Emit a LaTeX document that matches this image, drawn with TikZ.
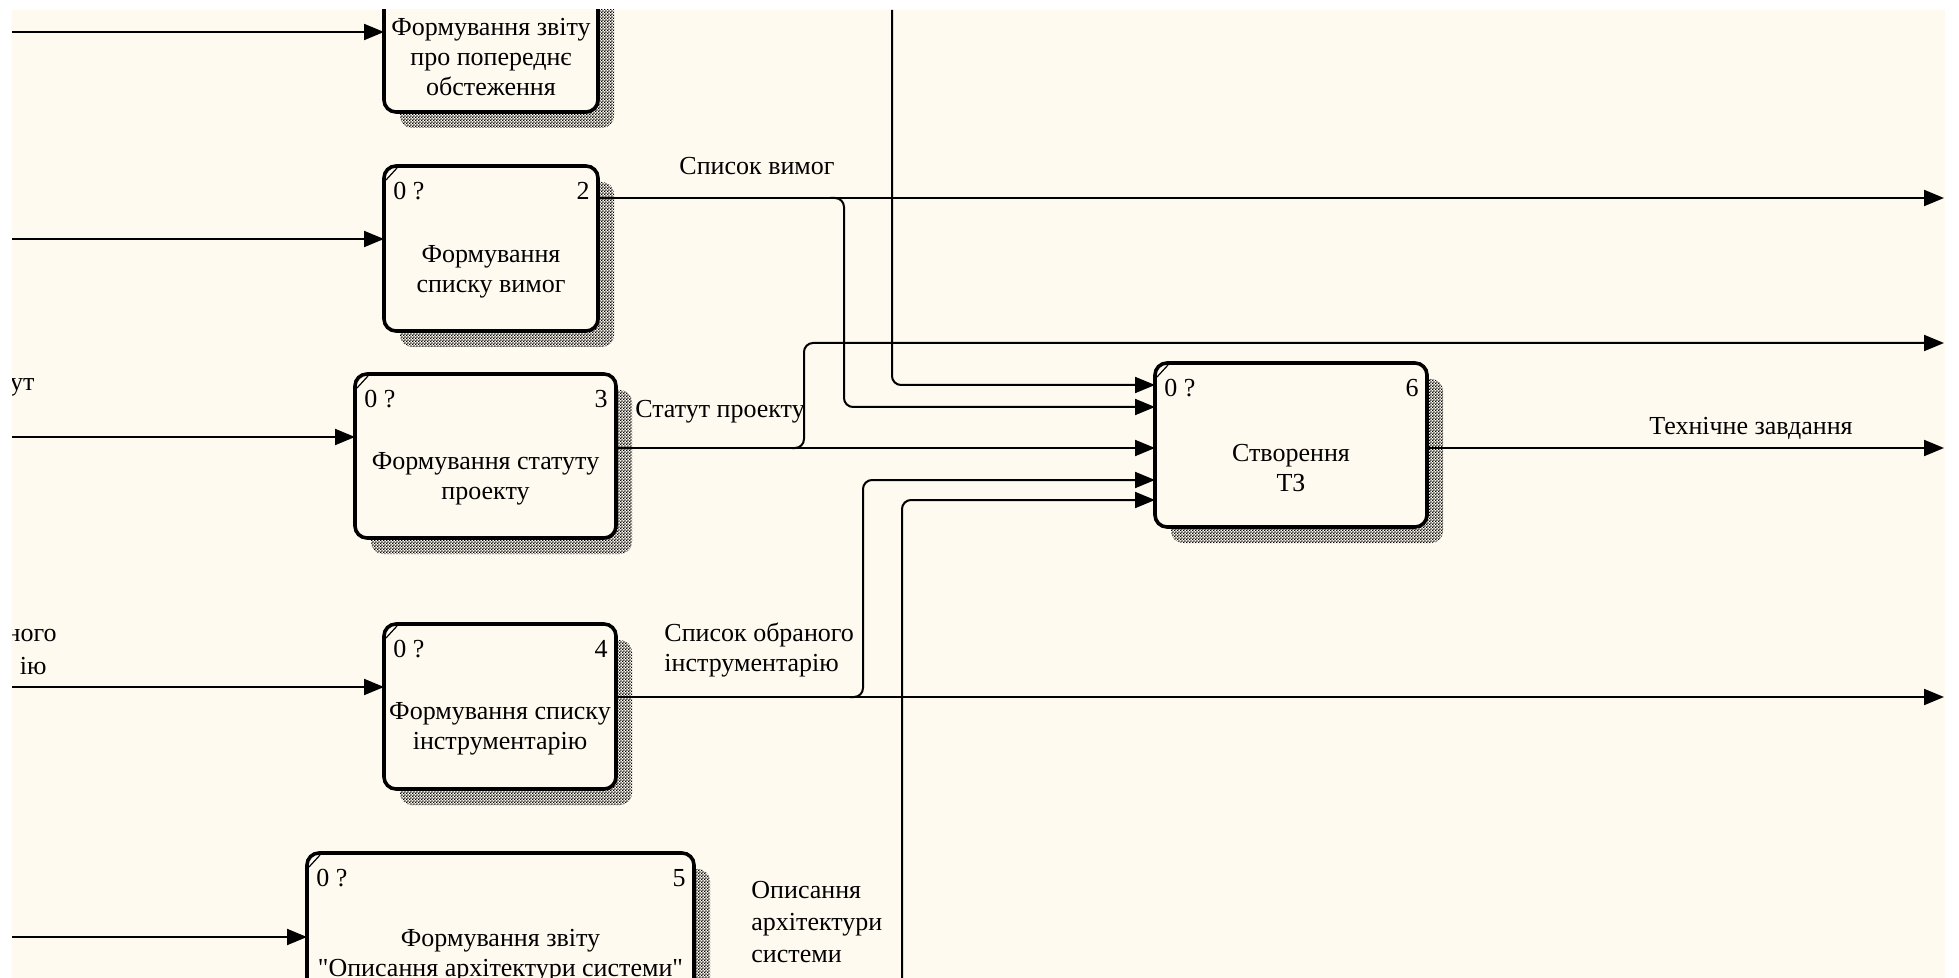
\documentclass[tikz,border=0pt]{standalone}
\usepackage{fontspec}
\setmainfont{Liberation Serif}
\usetikzlibrary{arrows.meta,calc,shadows,patterns}
\pgfdeclarepatternformonly{finecheck}{\pgfpointorigin}{\pgfqpoint{1.6pt}{1.6pt}}{\pgfqpoint{1.6pt}{1.6pt}}{%
 \pgfpathrectangle{\pgfpointorigin}{\pgfqpoint{0.8pt}{0.8pt}}%
 \pgfpathrectangle{\pgfqpoint{0.8pt}{0.8pt}}{\pgfqpoint{0.8pt}{0.8pt}}%
 \pgfusepath{fill}}
\definecolor{bg}{RGB}{255,250,240}
\begin{document}
\begin{tikzpicture}[x=0.5pt,y=-0.5pt,font=\fontsize{13}{15}\selectfont,
  fbox/.style={draw, line width=1.8pt, rounded corners=6pt, fill=bg, inner sep=0pt, outer sep=0pt,
    general shadow={shadow xshift=8pt, shadow yshift=-8pt, pattern=finecheck, pattern color=black}},
  btext/.style={align=center, inner sep=0pt},
  num/.style={inner sep=0pt},
  lab/.style={inner sep=0pt, align=left},
  conn/.style={line width=1pt, draw=black},
  arr/.style={conn, -{Triangle[length=10pt,width=8pt]}},
  branch/.style={arr, rounded corners=4.5pt},
  notch/.style={line width=0.6pt}]
\useasboundingbox (0,0) rectangle (1959,978);
\fill[white] (0,0) rectangle (1959,978);
\begin{scope}
\clip (12,10) rectangle (1945,978);
\fill[bg] (12,10) rectangle (1945,978);

% boxes
\node[fbox, minimum width=107pt, minimum height=82pt] (b1) at (491,30) {};
\node[fbox, minimum width=107pt, minimum height=82.5pt] (b2) at (491,248.5) {};
\node[fbox, minimum width=130.5pt, minimum height=82pt] (b3) at (485.5,456) {};
\node[fbox, minimum width=116pt, minimum height=82.5pt] (b4) at (500,706.5) {};
\node[fbox, minimum width=193.5pt, minimum height=82.5pt] (b5) at (500.5,935.5) {};
\node[fbox, minimum width=136pt, minimum height=82pt] (b6) at (1291,445) {};

% box texts
\node[btext] (t1) at ($(b1.center)+(0,27)$) {Формування звіту\\про попереднє\\обстеження};
\node[btext] (t2) at ($(b2.center)+(0,23)$) {Формування\\списку вимог};
\node[btext] (t3) at ($(b3.center)+(0,23)$) {Формування статуту\\проекту};
\node[btext] (t4) at ($(b4.center)+(0,22)$) {Формування списку\\інструментарію};
\node[btext] (t5) at ($(b5.center)+(0,20)$) {Формування звіту\\\textquotedbl Описання архітектури системи\textquotedbl};
\node[btext] (t6) at ($(b6.center)+(0,23)$) {Створення\\ТЗ};

% numbers and notches
\foreach \b/\n in {b2/2,b3/3,b4/4,b5/5,b6/6}{
  \node[num, anchor=west] (\b za) at ($(\b.north west)+(9,25)$) {0 ?};
  \node[num, anchor=east] (\b zb) at ($(\b.north east)+(-8,25)$) {\n};
  \draw[notch] ($(\b.north west)+(2,14)$) -- ($(\b.north west)+(13,2)$);
}

% free ends
\coordinate (l1) at (12,32);
\coordinate (l2) at (12,239);
\coordinate (l3) at (12,437);
\coordinate (l4) at (12,687);
\coordinate (l5) at (12,937);
\coordinate (r2) at (1944,198);
\coordinate (r3) at (1944,343);
\coordinate (r6) at (1944,448);
\coordinate (r4) at (1944,697);
\coordinate (top) at (892,10);
\coordinate (bot) at (902,978);

% inputs
\draw[arr] (l1) -- (b1.west |- l1);
\draw[arr] (l2) -- (b2.west |- l2);
\draw[arr] (l3) -- (b3.west |- l3);
\draw[arr] (l4) -- (b4.west |- l4);
\draw[arr] (l5) -- (b5.west |- l5);

% outputs
\draw[arr] (b2.east |- r2) -- (r2);
\draw[arr] (b3.east |- r6) -- (b6.west |- r6);
\draw[arr] (b4.east |- r4) -- (r4);
\draw[arr] (b6.east |- r6) -- (r6);

% branches
\draw[branch] (top) |- (b6.west |- 0,385);
\draw[branch] (830,198) -| (844,300) |- (b6.west |- 0,407);
\draw[branch] (792,448) -| (804,400) |- (r3);
\draw[branch] (850,697) -| (863,600) |- (b6.west |- 0,480);
\draw[branch] (bot) |- (b6.west |- 0,500);

% labels
\node[lab] (L2) at (757,166) {Список вимог};
\node[lab] (L3) at (720,412) {Статут проекту};
\node[lab, anchor=west] (L4) at (664,650) {Список обраного\\інструментарію};
\node[lab, anchor=west, font=\fontsize{13}{16}\selectfont] (L5) at (751,922) {Описання\\архітектури\\системи};
\node[lab] (L6) at (1751,428) {Технічне завдання};
\node[lab, anchor=east] (F3) at (35,387) {ут};
\node[lab, anchor=east] (F4a) at (57,635) {ного};
\node[lab, anchor=east] (F4b) at (47,666) {ію};
\end{scope}
\end{tikzpicture}
\end{document}
